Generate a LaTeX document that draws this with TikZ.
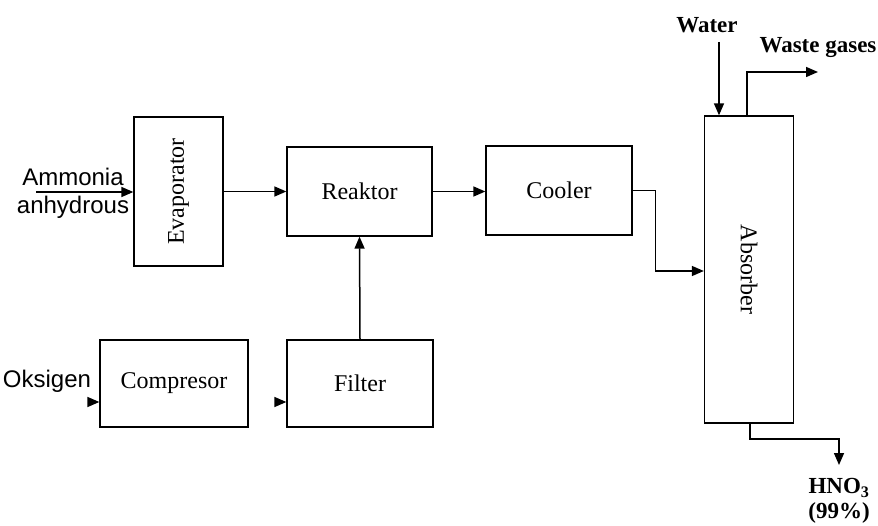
\documentclass[tikz,border=0pt]{standalone}
\usepackage{fontspec}
\setmainfont{Liberation Serif}
\newfontfamily\arialfont{Liberation Sans}
\usetikzlibrary{arrows.meta}

\tikzset{
  unit/.style={draw, line width=1.3pt, inner sep=0pt, font=\fontsize{24}{28}\selectfont},
  flow/.style={line width=1.5pt, -{Triangle[length=12pt,width=10pt]}},
  stream/.style={font=\fontsize{23}{25}\selectfont\bfseries, inner sep=0pt},
  feed/.style={font=\arialfont\fontsize{24}{26}\selectfont, inner sep=0pt}
}

\begin{document}
\begin{tikzpicture}[x=1pt,y=-1pt]
                \useasboundingbox (0,0) rectangle (878,526);
                % process units
                \node [unit, minimum width=89pt, minimum height=149pt] (evap) at (178.5,191.5) {\rotatebox{90}{Evaporator}};
                \node [unit, minimum width=145pt, minimum height=89pt] (reak) at (359.5,191.5) {Reaktor};
                \node [unit, minimum width=146pt, minimum height=89pt] (cool) at (559,190.5) {Cooler};
                \node [unit, minimum width=89pt, minimum height=307pt] (absb) at (749,269.5) {\rotatebox{-90}{Absorber}};
                \node [unit, minimum width=148pt, minimum height=87pt] (comp) at (174,383.5) {Compresor};
                \node [unit, minimum width=146pt, minimum height=87pt] (filt) at (360,383.5) {Filter};
                % stream labels
                \node [feed] (ammo) at (73,177) {Ammonia};
                \node [feed] (anhy) at (73,207) {anhydrous};
                \node [feed] (oksi) at (47,381) {Oksigen};
                \node [stream] (watr) at (707,25) {Water};
                \node [stream] (wast) at (818,48) {Waste gases};
                \node [stream, align=center, anchor=north] (hno) at (839,478) {HNO\textsubscript{3}\\(99\%)};
                \coordinate (ammoin) at (36,192);
                \coordinate (oksiin) at (96,402);
                \coordinate (compout) at (281,402);
                \coordinate (watrin) at (719,42);
                \coordinate (wastout) at (818,72);
                \coordinate (hnoout) at (839,465);
                % connections
                \draw [flow] (ammoin) -- (ammoin -| evap.west);
                \draw [flow] (evap.east |- reak) -- (reak.west);
                \draw [flow] (reak.east) -- (reak.east -| cool.west);
                \draw [flow] (cool.east) -- ++(23,0) |- (absb.west |- 0,271);
                \draw [flow] (oksiin) -- (oksiin -| comp.west);
                \draw [flow] (compout) -- (compout -| filt.west);
                \draw [flow] (filt.north) -- (reak.south);
                \draw [flow] (watrin) -- (watrin |- absb.north);
                \draw [flow] (absb.north -| 747,0) |- (wastout);
                \draw [flow] (absb.south -| 750,0) -- (750,439) -| (hnoout);
            \end{tikzpicture}
\end{document}
